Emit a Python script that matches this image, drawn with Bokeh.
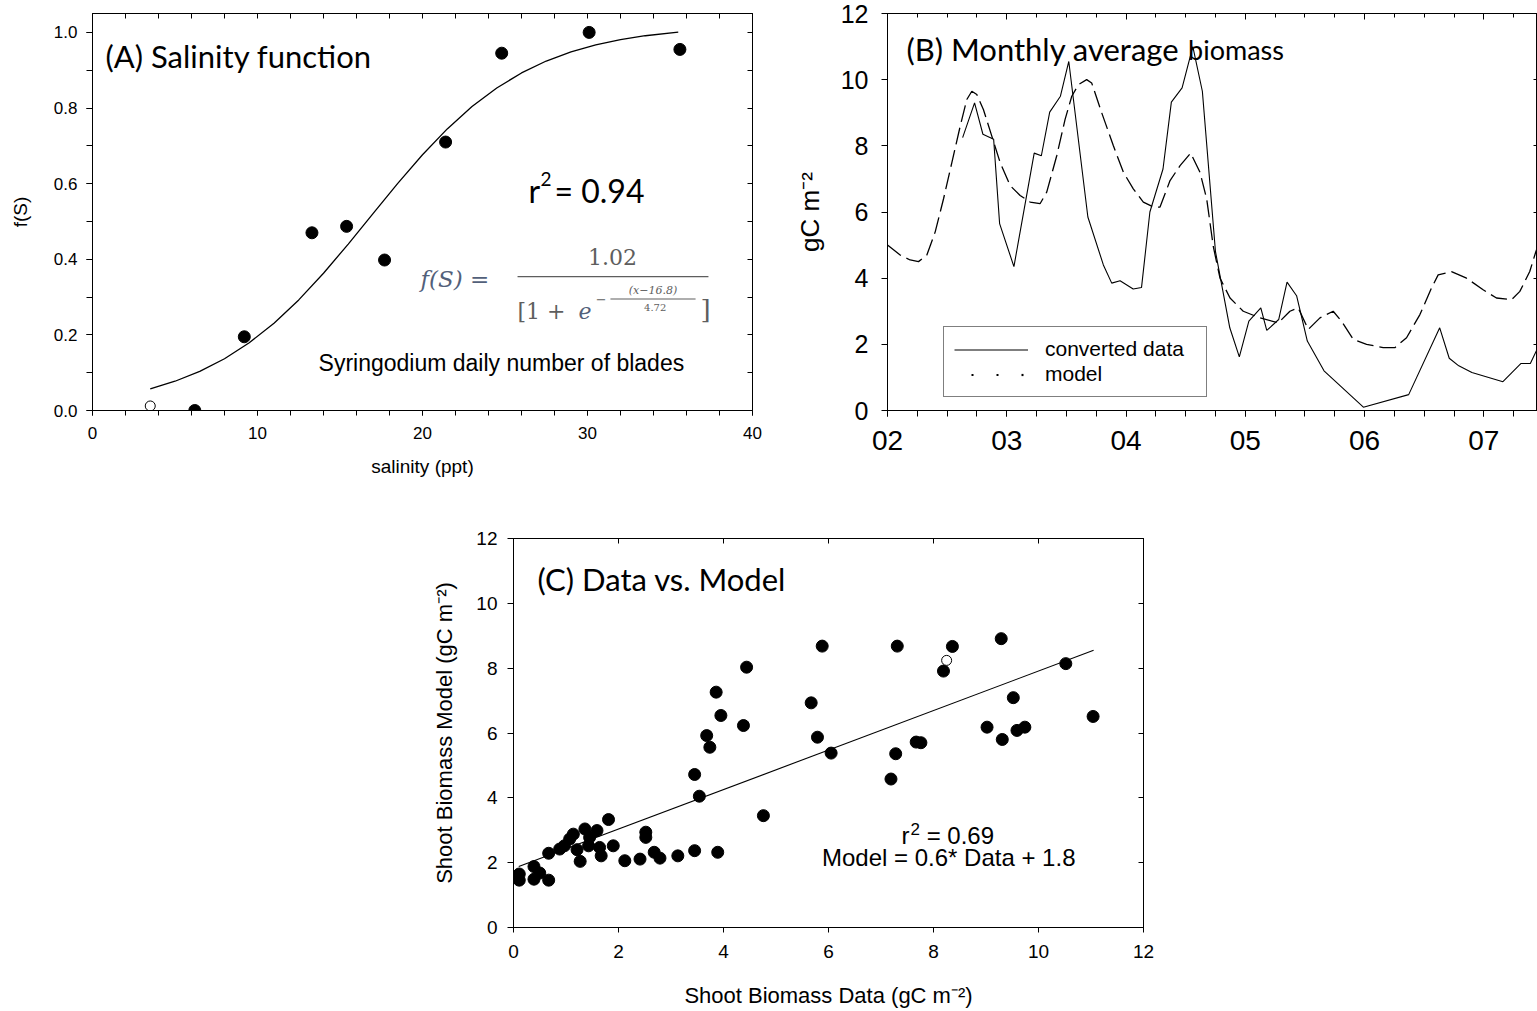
from bokeh.plotting import figure
from bokeh.models import (FixedTicker, LinearAxis, Label, Legend, LegendItem,
                          Range1d, Spacer, PrintfTickFormatter, BoxAnnotation)
from bokeh.layouts import row, column
from bokeh.embed import file_html
from bokeh.resources import INLINE

SANS = "Liberation Sans"
TITLE = "Lato"
SERIF = "DejaVu Serif"

# ---------------- Panel A data: salinity function ----------------
sal_x = [6.2, 9.2, 13.3, 15.4, 17.7, 21.4, 24.8, 30.1, 35.6]
sal_y = [0.0, 0.195, 0.47, 0.487, 0.398, 0.71, 0.945, 1.0, 0.955]
sal_open_x = [3.5]
sal_open_y = [0.012]
fit_x = [3.5, 5, 6.5, 8, 9.5, 11, 12.5, 14, 15.5, 17, 18.5, 20, 21.5, 23,
         24.5, 26, 27.5, 29, 30.5, 32, 33.5, 35.5]
fit_y = [0.0575, 0.0774, 0.1034, 0.1369, 0.1791, 0.2309, 0.2925, 0.3630,
         0.4402, 0.5208, 0.6009, 0.6765, 0.7448, 0.8039, 0.8531, 0.8928,
         0.9243, 0.9485, 0.9669, 0.9808, 0.9912, 1.001]
sal_xticks = [0, 10, 20, 30, 40]
sal_yticks = [0.0, 0.2, 0.4, 0.6, 0.8, 1.0]

# ---------------- Panel B data: monthly average biomass ----------------
data_year = [2002.63, 2002.73, 2002.80, 2002.89, 2002.94, 2003.06, 2003.23,
             2003.29, 2003.36, 2003.45, 2003.52, 2003.68, 2003.81, 2003.88,
             2003.95, 2004.06, 2004.13, 2004.20, 2004.31, 2004.38, 2004.47,
             2004.56, 2004.64, 2004.75, 2004.87, 2004.95, 2005.03, 2005.13,
             2005.18, 2005.28, 2005.35, 2005.43, 2005.52, 2005.66, 2005.99,
             2006.37, 2006.63, 2006.71, 2006.79, 2006.90, 2007.16, 2007.31,
             2007.39, 2007.46]
data_val = [8.25, 9.3, 8.35, 8.2, 5.65, 4.35, 7.78, 7.7, 9.02, 9.5, 10.55,
            5.85, 4.4, 3.85, 3.92, 3.67, 3.72, 6.0, 7.3, 9.32, 9.75, 11.0,
            9.65, 4.8, 2.5, 1.62, 2.7, 3.1, 2.42, 2.75, 3.88, 3.47, 2.1, 1.2,
            0.1, 0.48, 2.5, 1.58, 1.35, 1.15, 0.87, 1.42, 1.42, 1.95]
model_year = [2002.0, 2002.106, 2002.19, 2002.26, 2002.33, 2002.40, 2002.47,
              2002.54, 2002.61, 2002.665, 2002.707, 2002.749, 2002.804,
              2002.874, 2002.944, 2003.028, 2003.112, 2003.196, 2003.279,
              2003.335, 2003.419, 2003.489, 2003.545, 2003.601, 2003.67,
              2003.712, 2003.796, 2003.894, 2003.978, 2004.061, 2004.145,
              2004.229, 2004.285, 2004.369, 2004.453, 2004.542, 2004.62,
              2004.676, 2004.732, 2004.788, 2004.872, 2004.983, 2005.123,
              2005.277, 2005.374, 2005.444, 2005.528, 2005.626, 2005.737,
              2005.807, 2005.905, 2006.017, 2006.156, 2006.254, 2006.352,
              2006.464, 2006.561, 2006.617, 2006.729, 2006.855, 2006.994,
              2007.106, 2007.232, 2007.302, 2007.385, 2007.436, 2007.5]
model_val = [5.0, 4.7, 4.55, 4.5, 4.7, 5.4, 6.4, 7.5, 8.6, 9.4, 9.65, 9.55,
             9.1, 8.3, 7.5, 6.8, 6.5, 6.3, 6.25, 6.6, 7.7, 8.8, 9.5, 9.85,
             10.0, 9.9, 9.0, 8.0, 7.2, 6.7, 6.3, 6.15, 6.15, 6.95, 7.4, 7.78,
             7.2, 6.4, 4.95, 4.0, 3.4, 3.0, 2.8, 2.65, 3.0, 3.1, 2.45, 2.8,
             3.0, 2.7, 2.15, 2.0, 1.9, 1.9, 2.2, 2.9, 3.7, 4.1, 4.2, 4.0,
             3.65, 3.4, 3.35, 3.6, 4.2, 4.8, 5.4]
year_ticks = [2002, 2003, 2004, 2005, 2006, 2007]
year_labels = ["02", "03", "04", "05", "06", "07"]
quarter_ticks = [2002 + q / 4 for q in range(0, 23)]
biomass_ticks = [0, 2, 4, 6, 8, 10, 12]

# ---------------- Panel C data: data vs model ----------------
dvm_data = [0.11, 0.11, 0.39, 0.39, 0.50, 0.67, 0.67, 0.88, 0.97, 1.07,
            1.14, 1.21, 1.27, 1.36, 1.43, 1.45, 1.59, 1.64, 1.67, 1.81,
            1.90, 2.12, 2.41, 2.52, 2.52, 2.68, 2.79, 3.13, 3.45, 3.89,
            3.45, 3.54, 3.68, 3.74, 3.86, 3.95, 4.38, 4.44, 4.76, 5.67,
            5.79, 5.88, 6.05, 7.19, 7.28, 7.31, 7.67, 7.76, 8.19, 8.36,
            9.02, 9.29, 9.31, 9.52, 9.59, 9.74, 10.52, 11.04]
dvm_model = [1.65, 1.46, 1.88, 1.49, 1.68, 2.29, 1.46, 2.42, 2.52, 2.73,
             2.88, 2.40, 2.04, 3.04, 2.52, 2.78, 2.99, 2.47, 2.21, 3.33,
             2.52, 2.06, 2.11, 2.94, 2.78, 2.32, 2.14, 2.21, 2.37, 2.32,
             4.72, 4.05, 5.92, 5.56, 7.26, 6.54, 6.23, 8.03, 3.45, 6.93,
             5.87, 8.68, 5.38, 4.58, 5.36, 8.68, 5.72, 5.70, 7.91, 8.67,
             6.18, 8.91, 5.80, 7.09, 6.08, 6.18, 8.14, 6.51]
dvm_open_data = [8.25]
dvm_open_model = [8.24]
reg_x = [0.1, 11.05]
reg_y = [1.88, 8.55]


def base_fig(width, height, xr, yr, mbl, mbr, mbt, mbb):
    p = figure(width=width, height=height, x_range=Range1d(*xr),
               y_range=Range1d(*yr), output_backend="svg",
               toolbar_location=None, title=None,
               min_border_left=mbl, min_border_right=mbr,
               min_border_top=mbt, min_border_bottom=mbb)
    p.grid.visible = False
    p.outline_line_color = "black"
    p.background_fill_color = "white"
    p.border_fill_color = "white"
    return p


def style_axis(ax, tick_size, tick_out, minor_out=0, standoff=6,
               label_size=14, label_standoff=10):
    ax.axis_line_color = "black"
    ax.major_tick_line_color = "black"
    ax.minor_tick_line_color = "black" if minor_out else None
    ax.major_tick_out = tick_out
    ax.major_tick_in = 0
    ax.minor_tick_out = minor_out
    ax.minor_tick_in = 0
    ax.major_label_text_font = SANS
    ax.major_label_text_font_size = f"{tick_size}px"
    ax.major_label_text_color = "black"
    ax.major_label_standoff = standoff
    ax.axis_label_text_font = SANS
    ax.axis_label_text_font_style = "normal"
    ax.axis_label_text_color = "black"
    ax.axis_label_text_font_size = f"{label_size}px"
    ax.axis_label_standoff = label_standoff


def tick_axis(ticks, minor, tin, minor_in=0):
    ax = LinearAxis(ticker=FixedTicker(ticks=ticks, minor_ticks=minor))
    ax.major_tick_in = tin
    ax.major_tick_out = 0
    ax.minor_tick_in = minor_in
    ax.minor_tick_out = 0
    ax.minor_tick_line_color = "black" if minor_in else None
    ax.major_label_text_font_size = "0px"
    ax.major_label_text_color = None
    ax.major_label_standoff = 0
    ax.axis_line_color = "black"
    ax.major_tick_line_color = "black"
    return ax


def lab(p, x, y, text, font, size, align="left", style="normal",
        color="black", baseline="middle"):
    p.add_layout(Label(x=x, y=y, text=text, text_font=font,
                       text_font_size=f"{size}px", text_font_style=style,
                       text_align=align, text_baseline=baseline,
                       text_color=color))


# ================= Panel A =================
pA = base_fig(790, 505, (0, 40), (0, 1.05), 92, 38, 10, 95)
pA.xaxis.axis_label = "salinity (ppt)"
pA.yaxis.axis_label = "f(S)"
pA.xaxis.ticker = FixedTicker(ticks=sal_xticks, minor_ticks=list(range(0, 41, 2)))
pA.yaxis.ticker = FixedTicker(ticks=sal_yticks,
                              minor_ticks=[i / 10 for i in range(11)])
pA.yaxis.formatter = PrintfTickFormatter(format="%.1f")
style_axis(pA.xaxis[0], 17, 5, minor_out=5, standoff=11, label_size=19,
           label_standoff=14)
style_axis(pA.yaxis[0], 17, 6, minor_out=6, standoff=9, label_size=19,
           label_standoff=20)
pA.add_layout(tick_axis(list(range(0, 41, 2)), [], 5), "above")
pA.add_layout(tick_axis([i / 10 for i in range(11)], [], 5), "right")

pA.line(fit_x, fit_y, line_color="black", line_width=1.3)
pA.scatter(sal_x, sal_y, marker="circle", size=12, fill_color="black",
           line_color="black")
pA.scatter(sal_open_x, sal_open_y, marker="circle", size=10,
           fill_color="white", line_color="black", line_width=1)

lab(pA, 0.79, 0.937, "(A) Salinity function", TITLE, 31)
lab(pA, 26.42, 0.582, "r", TITLE, 32)
lab(pA, 27.15, 0.612, "2", TITLE, 19)
lab(pA, 28.0, 0.582, "= 0.94", TITLE, 32)
lab(pA, 13.7, 0.125, "Syringodium daily number of blades", SANS, 23)
# formula f(S) = 1.02 / [1 + e^-(x-16.8)/4.72]
FC = "#52607a"
GC = "#5e5e5e"
lab(pA, 19.88, 0.349, "f(S) =", SERIF, 23, style="italic", color=FC)
lab(pA, 31.52, 0.407, "1.02", SERIF, 22, align="center", color=GC)
pA.add_layout(BoxAnnotation(left=25.76, right=37.33, bottom=0.3525,
                            top=0.3560, fill_color=GC, fill_alpha=1,
                            line_color=None))
lab(pA, 25.76, 0.262, "[1 + ", SERIF, 22, color=GC)
lab(pA, 29.45, 0.262, "e", SERIF, 22, style="italic", color=FC)
lab(pA, 30.5, 0.296, "−", SERIF, 13, color=GC)
lab(pA, 33.97, 0.318, "(x−16.8)", SERIF, 11, align="center", style="italic",
    color=GC)
pA.add_layout(BoxAnnotation(left=31.39, right=36.55, bottom=0.2935,
                            top=0.2965, fill_color=GC, fill_alpha=1,
                            line_color=None))
lab(pA, 34.1, 0.272, "4.72", SERIF, 10, align="center", color=GC)
lab(pA, 36.85, 0.266, "]", SERIF, 26, color=GC)

# ================= Panel B =================
pB = base_fig(747, 505, (2002, 2007.45), (0, 12), 97, 0, 13, 92)
pB.xaxis.ticker = FixedTicker(ticks=year_ticks, minor_ticks=quarter_ticks)
pB.xaxis.major_label_overrides = dict(zip(year_ticks, year_labels))
pB.yaxis.ticker = FixedTicker(ticks=biomass_ticks)
pB.yaxis.axis_label = "gC m⁻²"
style_axis(pB.xaxis[0], 28, 6, minor_out=6, standoff=14, label_size=24)
style_axis(pB.yaxis[0], 25, 6, standoff=13, label_size=26, label_standoff=13)
pB.add_layout(tick_axis(year_ticks, quarter_ticks, 6, 4), "above")
pB.add_layout(tick_axis(biomass_ticks, [], 4), "right")

r_data = pB.line(data_year, data_val, line_color="black", line_width=1.1)
r_model = pB.line(model_year, model_val, line_color="black", line_width=1.3,
                  line_dash="17 6")
nan = float("nan")
r_leg_model = pB.line([nan], [nan], line_color="black", line_width=2.2,
                      line_dash="2 23", line_dash_offset=8)
legend = Legend(items=[LegendItem(label="converted data", renderers=[r_data]),
                       LegendItem(label="model", renderers=[r_leg_model])],
                location=(56, 13), orientation="vertical",
                border_line_color="black", border_line_width=1,
                background_fill_color="white", background_fill_alpha=1,
                padding=10, spacing=1, label_height=21, glyph_height=21,
                glyph_width=74, label_standoff=17, label_width=151,
                label_text_font=SANS, label_text_font_size="21px",
                label_text_color="black", margin=0)
pB.add_layout(legend)
lab(pB, 2002.159, 10.92, "(B) Monthly average", TITLE, 31)
lab(pB, 2004.52, 10.92, "biomass", TITLE, 27)

# ================= Panel C =================
pC = base_fig(843, 506, (0, 12), (0, 12), 113, 100, 33, 84)
pC.xaxis.ticker = FixedTicker(ticks=biomass_ticks)
pC.yaxis.ticker = FixedTicker(ticks=biomass_ticks)
pC.xaxis.axis_label = "Shoot Biomass Data (gC m⁻²)"
pC.yaxis.axis_label = "Shoot Biomass Model (gC m⁻²)"
style_axis(pC.xaxis[0], 19, 5, standoff=12, label_size=22, label_standoff=22)
style_axis(pC.yaxis[0], 19, 6, standoff=10, label_size=22, label_standoff=16)
pC.add_layout(tick_axis(biomass_ticks, [], 5), "above")
pC.add_layout(tick_axis(biomass_ticks, [], 5), "right")

pC.line(reg_x, reg_y, line_color="black", line_width=1.1)
pC.scatter(dvm_data, dvm_model, marker="circle", size=12, fill_color="black",
           line_color="black")
pC.scatter(dvm_open_data, dvm_open_model, marker="circle", size=10,
           fill_color="white", line_color="black", line_width=1)
lab(pC, 0.457, 10.75, "(C) Data vs. Model", TITLE, 31)
lab(pC, 7.39, 2.84, "r", SANS, 24)
lab(pC, 7.56, 3.04, "2", SANS, 17)
lab(pC, 7.87, 2.84, "= 0.69", SANS, 24)
lab(pC, 8.29, 2.16, "Model = 0.6* Data + 1.8", SANS, 24, align="center")

layout = column(row(pA, pB), row(Spacer(width=400, height=506), pC))
open("out.html", "w").write(file_html(layout, INLINE))
